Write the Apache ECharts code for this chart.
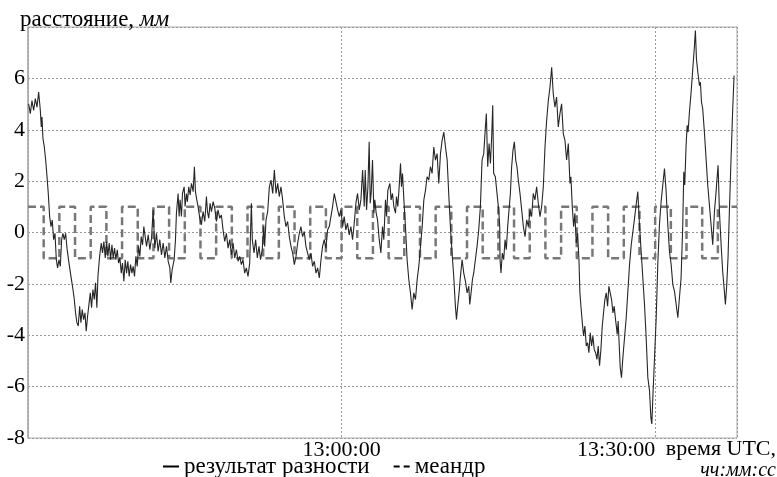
<!DOCTYPE html>
<html>
<head>
<meta charset="utf-8">
<script src="https://cdn.jsdelivr.net/npm/echarts@6/dist/echarts.min.js"></script>
<style>
  html, body { margin: 0; padding: 0; background: #fff; }
  #chart { width: 777px; height: 477px; }
</style>
</head>
<body>
<div id="chart"></div>
<script>
// time in minutes from 12:30:00 UTC, values in mm
const diffTime = [
  0.06,0.22,0.38,0.54,0.70,0.86,1.02,1.18,1.27,1.34,1.43,1.56,1.69,1.82,1.94,2.07,2.20,2.32,2.45,2.58,
  2.71,2.83,2.96,3.09,3.22,3.34,3.47,3.60,3.73,3.92,4.11,4.30,4.43,4.55,4.68,4.81,4.94,5.06,5.19,5.32,
  5.45,5.57,5.70,5.83,5.96,6.08,6.21,6.34,6.46,6.59,6.69,6.85,7.01,7.13,7.26,7.39,7.52,7.64,7.77,7.90,
  8.03,8.15,8.28,8.41,8.54,8.66,8.79,8.92,9.04,9.17,9.30,9.43,9.55,9.68,9.81,9.94,10.06,10.19,10.32,10.45,
  10.57,10.70,10.83,10.96,11.08,11.21,
  11.34,11.50,11.66,11.82,11.97,12.13,12.29,12.45,12.61,12.77,12.93,13.09,13.25,13.41,13.57,13.66,13.79,13.98,
  14.11,14.20,14.36,14.46,14.55,14.68,14.78,14.94,15.03,15.16,15.25,15.38,15.51,15.64,15.80,15.92,16.02,16.15,
  16.27,16.43,16.59,16.75,16.91,17.07,17.17,17.29,17.42,17.55,17.71,17.87,18.03,18.18,18.34,18.50,18.66,18.82,
  18.98,19.14,19.30,19.46,19.62,19.78,19.94,20.10,20.25,20.41,20.57,20.73,20.89,21.05,21.21,21.37,21.46,21.62,
  21.78,21.94,22.10,22.25,22.41,
  22.55,22.64,22.77,22.93,23.09,23.25,23.41,23.57,23.73,23.89,24.04,24.20,24.36,24.52,24.68,24.84,25.00,25.16,
  25.32,25.48,25.64,25.80,25.96,26.11,26.27,26.43,26.59,26.75,26.91,27.07,27.23,27.39,27.55,27.71,27.87,28.03,
  28.18,28.34,28.50,28.66,28.82,28.98,29.14,29.30,29.46,29.62,29.78,29.94,30.10,30.25,30.41,30.57,30.73,30.89,
  31.05,31.21,31.37,31.53,31.69,31.85,32.01,32.17,32.26,32.39,32.52,32.64,32.74,32.83,32.96,33.09,33.18,33.31,
  33.44,33.60,33.76,33.85,
  33.92,34.04,34.20,34.30,34.43,34.62,34.74,34.87,35.00,35.16,35.25,35.38,35.51,35.64,35.73,35.83,35.96,36.11,
  36.27,36.43,36.59,36.75,36.91,37.07,37.23,37.39,37.55,37.71,37.87,38.03,38.18,38.34,38.50,38.66,38.82,38.98,
  39.14,39.30,39.46,39.62,39.78,39.94,40.10,40.25,40.41,40.57,40.73,40.89,40.99,41.11,41.24,41.37,41.53,41.69,
  41.85,42.01,42.17,42.26,42.39,42.52,42.64,42.80,42.96,43.12,43.28,43.44,43.60,43.76,43.85,43.98,44.11,44.24,
  44.36,44.46,44.55,44.71,44.87,45.03,45.13,
  45.16,45.25,45.38,45.51,45.64,45.76,45.89,46.02,46.15,46.27,46.40,46.53,46.66,46.78,46.91,47.07,47.23,47.39,
  47.55,47.71,47.87,48.03,48.18,48.34,48.50,48.66,48.82,48.98,49.14,49.30,49.46,49.62,49.78,49.94,50.10,50.25,
  50.41,50.57,50.73,50.89,51.05,51.21,51.37,51.53,51.69,51.85,51.94,52.07,52.20,52.32,52.45,52.58,52.71,52.80,
  52.90,53.03,53.15,53.28,53.41,53.54,53.66,53.79,53.92,54.04,54.17,54.30,54.43,54.55,54.68,54.81,54.94,55.06,
  55.19,55.32,55.45,55.57,55.70,55.83,55.96,56.08,56.21,56.30,
  56.37,56.46,56.56,56.66,56.78,56.91,57.07,57.23,57.39,57.55,57.71,57.87,58.03,58.18,58.34,58.50,58.66,58.82,
  58.98,59.14,59.30,59.46,59.59,59.68,59.78,59.94,60.10,60.25,60.41,60.57,60.73,60.89,61.05,61.21,61.37,61.53,
  61.69,61.85,62.01,62.17,62.32,62.48,62.64,62.74,62.83,62.96,63.06,63.15,63.28,63.44,63.60,63.76,63.85,63.95,
  64.08,64.24,64.33,64.43,64.55,64.71,64.87,65.03,65.19,65.35,65.51,65.67,65.83,65.92,66.02,66.15,66.31,66.46,
  66.62,66.72,66.85,66.97,67.10,67.26,67.42,67.55
];
const diffValue = [
  5.01,4.63,5.14,4.75,5.21,4.88,5.47,4.75,4.11,4.50,3.66,3.33,2.82,2.17,1.52,0.62,0.23,0.49,-0.28,-0.03,
  -1.06,-1.38,-1.06,-1.32,-0.28,-0.03,-0.28,-0.03,-0.61,-1.19,-1.71,-2.22,-2.61,-3.13,-3.51,-3.64,-2.87,-3.51,-3.00,-3.39,
  -3.13,-3.84,-3.26,-2.80,-2.35,-2.93,-2.22,-2.61,-1.96,-2.93,-1.71,-0.93,-0.41,-0.80,-0.35,-0.99,-0.35,-0.93,-0.41,-1.06,
  -0.48,-0.99,-0.61,-1.06,-0.67,-1.19,-0.99,-1.58,-1.19,-1.90,-1.06,-1.58,-1.12,-1.71,-1.25,-1.58,-1.32,-1.71,-0.93,-1.32,
  -0.54,-0.93,-0.16,-0.48,0.23,-0.16,
  -0.54,-0.09,-0.67,-0.22,0.88,-0.61,-0.03,-0.74,-0.28,-0.87,-0.41,-0.99,-0.54,-1.12,-1.38,-1.96,-1.45,-1.06,
  -0.28,0.75,1.52,0.62,1.27,0.62,1.52,1.78,1.01,1.52,1.20,1.78,1.46,1.91,1.59,2.56,1.59,1.27,
  1.01,0.56,0.30,0.81,0.43,1.40,0.81,0.56,1.14,0.81,1.20,0.94,0.43,0.88,0.56,0.68,0.10,-0.35,
  -0.03,-0.61,-0.28,-0.87,-0.41,-0.99,-0.67,-1.12,-0.93,-1.25,-1.06,-1.58,-1.38,-1.71,-1.19,1.14,-0.28,-0.80,
  -0.28,-0.99,-0.54,-1.06,-0.67,
  0.23,-0.54,0.49,0.81,1.78,2.04,1.52,2.43,1.52,1.91,1.40,1.78,1.27,0.62,0.23,0.43,-0.16,-0.54,
  -0.80,-1.25,-0.93,-0.41,-0.03,0.23,-0.16,0.04,-0.54,-0.80,-1.06,-0.80,-1.32,-1.12,-1.58,-1.38,-1.77,-1.06,
  -0.54,-0.28,-0.61,0.10,0.23,0.62,1.01,1.52,1.59,0.88,0.62,0.88,0.23,0.62,0.10,0.36,-0.09,0.23,
  -0.28,0.36,1.14,1.52,0.88,1.27,2.43,1.01,2.43,0.88,1.78,3.53,1.14,1.52,2.82,0.75,1.27,0.75,
  0.49,-0.28,-0.80,-0.20,
  0.23,-0.28,1.27,0.62,1.65,1.91,1.27,1.52,1.01,0.75,1.40,1.01,1.78,2.69,1.78,2.30,1.27,0.23,
  -1.06,-1.83,-2.35,-3.00,-2.35,-2.61,-1.83,-1.32,-0.54,0.23,1.27,1.65,2.17,2.04,2.56,2.30,3.33,2.82,
  3.07,1.91,3.07,3.59,3.91,3.33,2.82,1.52,0.23,-0.80,-1.71,-2.87,-3.39,-2.87,-2.35,-1.71,-1.06,-1.58,
  -1.90,-2.35,-2.09,-2.80,-2.35,-1.83,-1.58,-1.06,-0.54,0.10,1.01,2.82,3.07,4.11,4.63,2.56,3.46,2.69,
  3.72,4.95,2.30,2.17,1.52,0.88,0.23,
  -1.06,-1.58,-0.80,-1.06,-0.28,-0.67,0.23,0.88,1.52,2.56,3.20,3.53,2.82,2.56,2.04,1.52,0.88,0.23,
  -0.16,0.49,0.23,0.88,0.62,1.52,1.27,1.78,1.14,0.62,1.01,1.78,3.33,4.37,5.14,5.66,6.43,5.40,
  4.88,5.27,4.11,4.63,5.01,3.85,3.59,2.82,3.46,1.91,2.17,1.01,0.23,0.75,-0.41,-0.03,-1.06,-2.35,
  -2.87,-3.51,-4.03,-3.64,-4.42,-4.29,-4.68,-3.90,-4.42,-4.03,-4.55,-4.68,-4.94,-4.42,-5.19,-4.55,-3.64,-3.13,
  -2.61,-2.35,-2.87,-2.09,-2.35,-2.61,-3.13,-2.87,-3.39,-3.70,
  -3.97,-3.45,-4.36,-5.27,-5.65,-4.87,-4.10,-3.32,-2.29,-1.25,-0.48,0.04,0.56,1.07,1.59,0.30,-0.74,-1.77,
  -2.80,-4.10,-5.65,-6.16,-7.20,-7.45,-6.42,-4.87,-3.32,-1.25,0.30,1.20,1.85,2.49,1.59,0.30,-0.74,-1.25,
  -2.03,-2.29,-2.80,-3.32,-2.55,-1.77,0.30,2.36,1.85,3.40,4.17,3.91,4.69,5.47,6.37,7.27,7.86,6.76,
  6.24,5.72,5.85,5.08,4.82,3.91,2.88,1.85,1.07,0.30,-0.48,0.81,1.59,2.11,2.62,0.81,-0.48,-1.51,
  -2.29,-2.80,-2.03,-0.99,0.81,2.88,4.82,6.11
];
const meanderTime = [0,1.5,3,4.5,6,7.5,9,10.5,12,13.5,15,16.5,18,19.5,21,22.5,24,25.5,27,28.5,30,31.5,33,34.5,36,37.5,39,40.5,42,43.5,45,46.5,48,49.5,51,52.5,54,55.5,57,58.5,60,61.5,63,64.5,66,67.83];
const meanderValue = [1,-1,1,-1,1,-1,1,-1,1,-1,1,-1,1,-1,1,-1,1,-1,1,-1,1,-1,1,-1,1,-1,1,-1,1,-1,1,-1,1,-1,1,-1,1,-1,1,-1,1,-1,1,-1,1,1];
const xTickValues = [30, 60];
const xTickLabels = ['13:00:00', '13:30:00'];
const seriesNames = ['результат разности', 'меандр'];

const FONT = 'Liberation Serif';
const chart = echarts.init(document.getElementById('chart'), null, { renderer: 'canvas' });
const diffData = diffTime.map((t, i) => [t, diffValue[i]]);
const meanderData = meanderTime.map((t, i) => [t, meanderValue[i]]);

chart.setOption({
  animation: false,
  backgroundColor: '#fff',
  title: {
    text: '{a|расстояние, }{b|мм}',
    left: 15, top: 3,
    textStyle: {
      fontWeight: 'normal',
      rich: {
        a: { fontFamily: FONT, fontSize: 23, fontWeight: 'normal', color: '#000' },
        b: { fontFamily: FONT, fontSize: 23, fontWeight: 'normal', fontStyle: 'italic', color: '#000' }
      }
    }
  },
  legend: {
    left: 158, top: 450,
    itemWidth: 16, itemHeight: 2, itemGap: 24,
    textStyle: { fontFamily: FONT, fontSize: 23, color: '#000' },
    data: [
      { name: seriesNames[0], icon: 'path://M0,0H16V2H0Z', itemStyle: { color: '#000' } },
      { name: seriesNames[1], icon: 'path://M0,0H6V2H0Z M10,0H16V2H10Z', itemStyle: { color: '#000' } }
    ]
  },
  grid: {
    left: 28, right: 40, top: 27, bottom: 39,
    containLabel: false, outerBoundsMode: 'none',
    show: true, borderColor: '#aaa', borderWidth: 1
  },
  xAxis: {
    type: 'value', min: 0, max: 67.83, interval: 30,
    axisLine: { show: false, onZero: false },
    axisTick: { show: false },
    splitLine: { show: true, lineStyle: { color: '#999', type: [2, 2], width: 1 } },
    axisLabel: {
      margin: 1,
      fontFamily: FONT, fontSize: 22, color: '#000',
      formatter: function (v) {
        const i = xTickValues.indexOf(Math.round(v * 100) / 100);
        if (i < 0) return '';
        return i === xTickValues.length - 1 ? '{r|' + xTickLabels[i] + '}' : xTickLabels[i];
      },
      rich: { r: { fontFamily: FONT, fontSize: 22, color: '#000', padding: [0, 78, 0, 0] } }
    },
    name: '{a|время UTC,}\n{b|чч:мм:сс}',
    nameLocation: 'end',
    nameGap: 39,
    nameTextStyle: {
      align: 'right', verticalAlign: 'top',
      padding: [0, 0, 0, 0],
      rich: {
        a: { fontFamily: FONT, fontSize: 22, color: '#000', align: 'right', lineHeight: 22 },
        b: { fontFamily: FONT, fontSize: 20, fontStyle: 'italic', color: '#000', align: 'right', lineHeight: 22 }
      }
    }
  },
  yAxis: {
    type: 'value', min: -8, max: 8, interval: 2,
    axisLine: { show: true, onZero: false, lineStyle: { color: '#aaa', width: 1.5 } },
    axisTick: { show: false },
    splitLine: { show: true, lineStyle: { color: '#999', type: [2, 2], width: 1 } },
    axisLabel: {
      margin: 3,
      fontFamily: FONT, fontSize: 22, color: '#000',
      formatter: function (v) { return v === 8 ? '' : String(v); }
    }
  },
  series: [
    {
      name: seriesNames[0], type: 'line', data: diffData,
      symbol: 'none', z: 3,
      lineStyle: { color: '#262626', width: 1.1 },
      itemStyle: { color: '#262626' }
    },
    {
      name: seriesNames[1], type: 'line', data: meanderData, step: 'end',
      symbol: 'none', z: 2,
      lineStyle: { color: '#777', width: 2.5, type: [8, 4] },
      itemStyle: { color: '#777' }
    }
  ]
});
</script>
</body>
</html>
